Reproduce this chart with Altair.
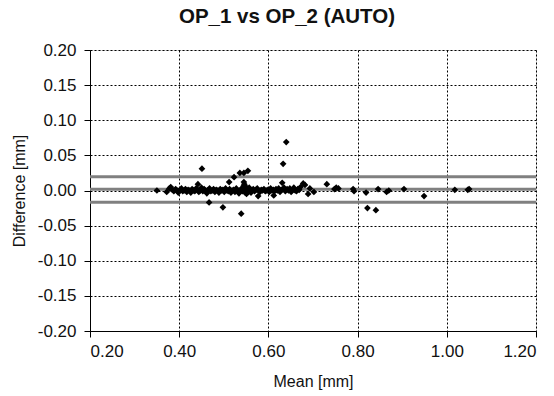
import altair as alt
import pandas as pd

mean_mm = [
    0.350, 0.372, 0.378, 0.381, 0.385, 0.388, 0.392, 0.395, 0.398, 0.402,
    0.405, 0.408, 0.411, 0.414, 0.417, 0.420, 0.423, 0.426, 0.429, 0.432,
    0.435, 0.438, 0.441, 0.442, 0.444, 0.447, 0.450, 0.451, 0.453, 0.456,
    0.459, 0.462, 0.465, 0.467, 0.468, 0.471, 0.474, 0.477, 0.480, 0.483,
    0.486, 0.489, 0.492, 0.495, 0.498, 0.498, 0.501, 0.504, 0.507, 0.510,
    0.512, 0.513, 0.516, 0.519, 0.522, 0.523, 0.525, 0.528, 0.531, 0.534,
    0.536, 0.537, 0.539, 0.540, 0.542, 0.544, 0.545, 0.545, 0.546, 0.547,
    0.548, 0.549, 0.550, 0.551, 0.552, 0.554, 0.555, 0.557, 0.559, 0.561,
    0.563, 0.566, 0.569, 0.572, 0.575, 0.577, 0.578, 0.581, 0.584, 0.587,
    0.590, 0.593, 0.596, 0.599, 0.602, 0.605, 0.608, 0.611, 0.612, 0.614,
    0.617, 0.620, 0.623, 0.626, 0.629, 0.631, 0.633, 0.635, 0.638, 0.640,
    0.642, 0.645, 0.648, 0.651, 0.654, 0.657, 0.660, 0.663, 0.666, 0.669,
    0.672, 0.678, 0.682, 0.689, 0.693, 0.702, 0.731, 0.748, 0.752, 0.757,
    0.790, 0.792, 0.819, 0.822, 0.841, 0.846, 0.865, 0.870, 0.904, 0.949,
    1.018, 1.047, 1.050,
]
diff_mm = [
    0.000, -0.002, 0.003, 0.005, 0.001, -0.001, 0.002, 0.000, -0.003, 0.001,
    0.003, -0.001, 0.000, 0.002, -0.002, 0.001, 0.000, -0.003, 0.002, 0.000,
    -0.001, 0.003, 0.001, 0.009, -0.002, 0.000, 0.004, 0.031, -0.001, 0.002,
    0.000, -0.004, 0.001, -0.017, 0.003, -0.001, 0.000, 0.002, -0.002, 0.001,
    0.000, -0.003, 0.002, 0.000, -0.024, 0.001, -0.002, 0.003, 0.000, -0.001,
    0.012, 0.002, -0.003, 0.000, 0.001, 0.019, -0.002, 0.003, 0.000, -0.004,
    0.025, 0.001, -0.033, 0.002, -0.001, 0.006, 0.025, 0.012, 0.009, 0.003,
    -0.003, 0.000, 0.005, -0.005, 0.002, 0.028, -0.001, 0.004, 0.001, -0.003,
    0.000, 0.002, -0.001, 0.001, 0.003, -0.008, 0.000, -0.002, 0.001, 0.000,
    0.002, -0.001, 0.000, 0.001, -0.002, 0.003, 0.000, 0.001, -0.007, -0.001,
    0.002, 0.000, 0.003, -0.002, 0.001, 0.011, 0.038, 0.004, -0.001, 0.069,
    0.002, 0.000, 0.003, -0.002, 0.001, 0.004, 0.000, -0.001, 0.002, 0.001,
    0.005, 0.010, 0.008, -0.005, 0.003, -0.002, 0.009, 0.002, 0.004, 0.003,
    0.002, -0.001, -0.003, -0.025, -0.028, 0.002, -0.002, 0.000, 0.002, -0.008,
    0.001, 0.001, 0.002,
]
ref_values = [0.0197, 0.0017, -0.0168]
x_ticks = [0.2, 0.4, 0.6, 0.8, 1.0, 1.2]
y_ticks = [-0.2, -0.15, -0.1, -0.05, 0.0, 0.05, 0.1, 0.15, 0.2]

FONT = "Liberation Sans"
LABEL_EXPR = "replace(format(datum.value, '.2f'), '\u2212', '-')"

pts = pd.DataFrame({"mean": mean_mm, "diff": diff_mm})
refs = pd.DataFrame({"y": ref_values})

x_scale = alt.Scale(domain=[0.2, 1.2], nice=False, zero=False)
y_scale = alt.Scale(domain=[-0.2, 0.2], nice=False, zero=False)

common = dict(
    grid=True, gridColor="#000000", gridDash=[2, 2], gridWidth=1,
    domainColor="#000000", tickColor="#000000", tickSize=6,
    labelFont=FONT, labelFontSize=17, labelColor="#111111",
    labelOverlap=False, labelExpr=LABEL_EXPR,
    titleFont=FONT, titleFontSize=16, titleFontWeight="normal", titleColor="#111111",
)
x_axis = alt.Axis(title="Mean [mm]", values=x_ticks, tickCount=6, labelPadding=6,
                  titlePadding=14, **common)
y_axis = alt.Axis(title="Difference [mm]", values=y_ticks, tickCount=9, labelPadding=8,
                  titlePadding=10, **common)

lines = alt.Chart(refs).mark_rule(color="#808080", strokeWidth=3).encode(
    y=alt.Y("y:Q", scale=y_scale, axis=y_axis)
)

points = alt.Chart(pts).mark_point(
    shape="diamond", filled=True, color="#000000", size=45, opacity=1
).encode(
    x=alt.X("mean:Q", scale=x_scale, axis=x_axis),
    y=alt.Y("diff:Q", scale=y_scale, axis=y_axis),
)

chart = alt.layer(lines, points).properties(
    width=446,
    height=281,
    autosize=alt.AutoSizeParams(type="none"),
    padding={"left": 90, "top": 50, "right": 18, "bottom": 65},
    title=alt.Title(
        "OP_1 vs OP_2 (AUTO)", font=FONT, fontSize=20.5, fontWeight="bold",
        color="#111111", offset=14, anchor="middle", dx=-26,
    ),
).configure_view(stroke="#808080", strokeWidth=2).configure(background="white")

chart.save("out.html", embed_options={"renderer": "svg", "actions": False})
